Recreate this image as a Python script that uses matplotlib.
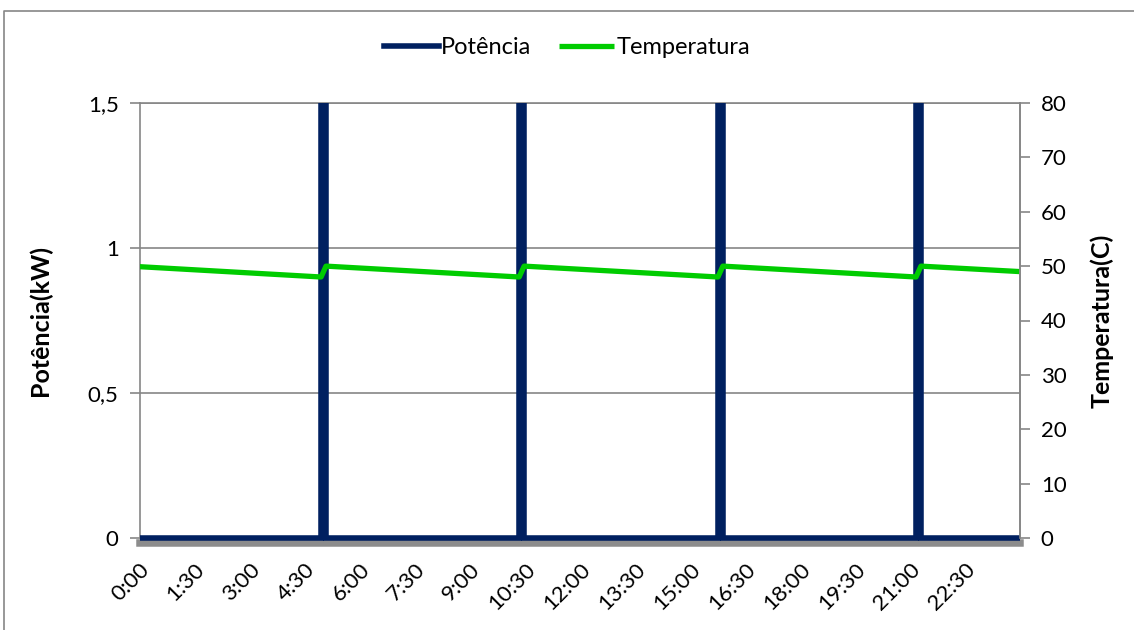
import matplotlib
matplotlib.use("Agg")
import matplotlib.pyplot as plt
from matplotlib.lines import Line2D
from matplotlib.transforms import Bbox, TransformedBbox

# heater power (kW) as a step trace, time in minutes after midnight
power_t = [0, 297, 297, 305, 305, 621, 621, 629, 629,
           946, 946, 954, 954, 1270, 1270, 1278, 1278, 1439]
power_kw = [0, 0, 3, 3, 0, 0, 3, 3, 0,
            0, 3, 3, 0, 0, 3, 3, 0, 0]

# tank temperature (C), vertices of the sawtooth
temp_t = [0, 297, 305, 621, 629, 946, 954, 1270, 1278, 1439]
temp_c = [49.9, 48.0, 50.0, 48.0, 50.0, 48.0, 50.0, 48.0, 50.0, 49.0]

time_labels = ["0:00", "1:30", "3:00", "4:30", "6:00", "7:30", "9:00", "10:30",
               "12:00", "13:30", "15:00", "16:30", "18:00", "19:30", "21:00", "22:30"]
power_ticks = [0, 0.5, 1, 1.5]
power_tick_labels = ["0", "0,5", "1", "1,5"]
temp_ticks = [0, 10, 20, 30, 40, 50, 60, 70, 80]

NAVY = "#002060"
GREEN = "#00CC00"
GRAY = "#868686"

plt.rcParams["font.family"] = ["Lato", "DejaVu Sans"]
plt.rcParams["font.size"] = 16

fig = plt.figure(figsize=(11.34, 6.3), dpi=100)
# chart frame: only the left and top edges fall inside the image
fig.add_artist(Line2D([3.5 / 1134, 3.5 / 1134, 1.01], [-0.01, 1 - 10.5 / 630, 1 - 10.5 / 630],
                      transform=fig.transFigure, color=GRAY, linewidth=1.2))
ax = fig.add_axes([139.5 / 1134, 92 / 630, 880.5 / 1134, 435 / 630])

line_p, = ax.plot(power_t, power_kw, color=NAVY, linewidth=4.0,
                  solid_joinstyle="miter", label="Potência", zorder=3)
# let the zero line show its full width at the bottom edge
line_p.set_clip_box(TransformedBbox(Bbox([[0, -0.03], [1, 1]]), ax.transAxes))

ax.set_xlim(0, 1440)
ax.set_ylim(0, 1.5)
ax.set_xticks([90 * i for i in range(len(time_labels))])
ax.set_xticklabels(time_labels)
ax.tick_params(axis="x", length=0, pad=12)
ax.set_yticks(power_ticks)
ax.set_yticklabels(power_tick_labels)
ax.tick_params(axis="y", length=7, width=1.2, color=GRAY, pad=8)
ax.grid(axis="y", color=GRAY, linewidth=1.2)
ax.set_axisbelow(True)
ax.set_ylabel("Potência(kW)", fontweight="bold", fontsize=18, labelpad=26)

for side in ("left", "top", "right"):
    ax.spines[side].set_color(GRAY)
    ax.spines[side].set_linewidth(1.2)
ax.spines["bottom"].set_color("#8C8C8C")
ax.spines["bottom"].set_linewidth(5.4)
ax.spines["bottom"].set_position(("outward", 3.3))

ax2 = ax.twinx()
line_t, = ax2.plot(temp_t, temp_c, color=GREEN, linewidth=3.8,
                   solid_capstyle="butt", label="Temperatura")
ax2.set_ylim(0, 80)
ax2.set_yticks(temp_ticks)
ax2.tick_params(axis="y", length=7, width=1.2, color=GRAY, pad=8)
ax2.set_ylabel("Temperatura(C)", fontweight="bold", fontsize=18,
               rotation=90, labelpad=17)
for side in ("left", "top", "bottom"):
    ax2.spines[side].set_visible(False)
ax2.spines["right"].set_color(GRAY)
ax2.spines["right"].set_linewidth(1.2)

for lbl in ax.get_xticklabels():
    lbl.set_rotation(45)
    lbl.set_ha("right")
    lbl.set_rotation_mode("anchor")

fig.legend(handles=[line_p, line_t], loc="center", bbox_to_anchor=(0.5, 1 - 48 / 630),
           ncol=2, frameon=False, handlelength=2.3, handletextpad=0.1,
           columnspacing=1.2, fontsize=17)

fig.savefig("out.png", dpi=100)
